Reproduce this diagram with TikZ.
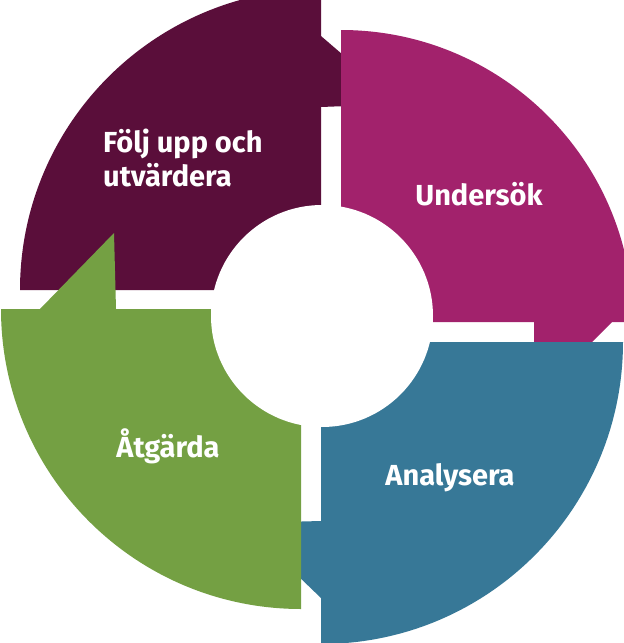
\documentclass[tikz,border=0pt]{standalone}
\usepackage{fontspec}
\setmainfont{Fira Sans}
\definecolor{cPurple}{HTML}{5A0E3A}
\definecolor{cMagenta}{HTML}{A2226C}
\definecolor{cTeal}{HTML}{377897}
\definecolor{cGreen}{HTML}{74A043}
\begin{document}
\begin{tikzpicture}[x=1pt,y=-1pt,
  lbl/.style={text=white,font=\fontsize{29}{34}\selectfont\bfseries,inner sep=0pt}]
\useasboundingbox (0,0) rectangle (624,643);
\clip (0,0) rectangle (624,643);
\fill[white] (0,0) rectangle (624,643);
% purple
\fill[cPurple] (321,290) -- (20,290) arc[start angle=180,end angle=270,radius=301]
  -- (321,36) -- (400,104) -- (321,107) -- cycle;
% magenta
\fill[cMagenta] (341,322) -- (341,30) arc[start angle=270,end angle=360,radius=292]
  -- (612,322) -- (534,400) -- (534,322) -- cycle;
% teal
\fill[cTeal] (321,342) -- (623,342) arc[start angle=0,end angle=90,radius=302]
  -- (321,598) -- (243,523) -- (321,521) -- cycle;
% green
\fill[cGreen] (301,309) -- (301,609) arc[start angle=90,end angle=180,radius=300]
  -- (40,309) -- (114,233) -- (116,309) -- cycle;
\node[circle,fill=white,minimum size=222pt,inner sep=0pt] (hub) at (322,316) {};
\node[lbl,align=left,anchor=west] (f) at (103,158) {Följ upp och\\utvärdera};
\node[lbl] (u) at (479,194) {Undersök};
\node[lbl] (a) at (168,446) {Åtgärda};
\node[lbl] (n) at (450,478) {Analysera};
\end{tikzpicture}
\end{document}
